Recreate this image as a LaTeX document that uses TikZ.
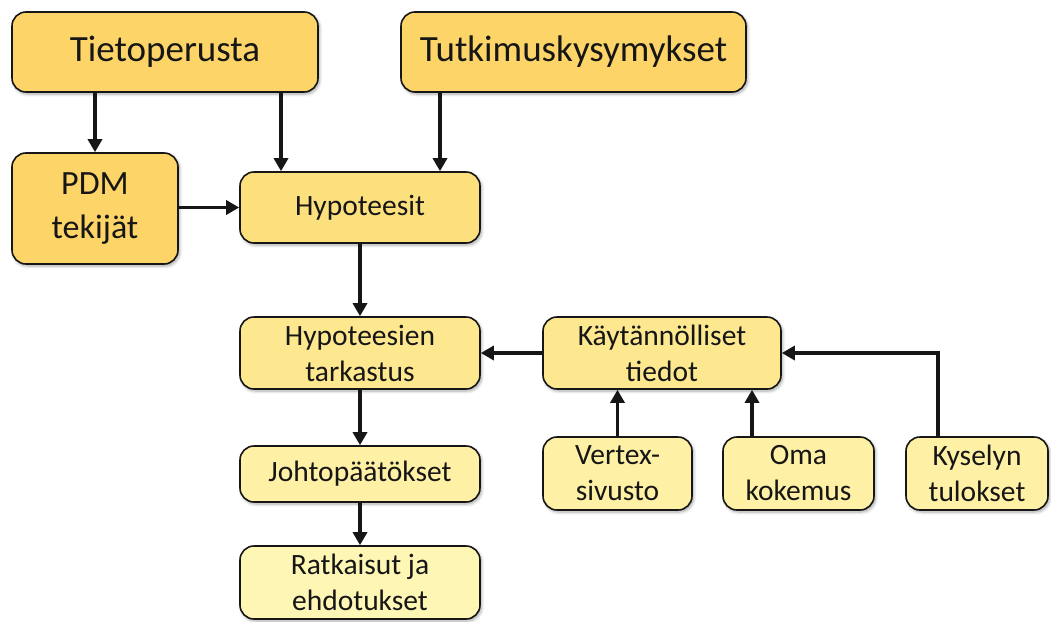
\documentclass[tikz,border=0pt]{standalone}
\usepackage{fontspec}
\setmainfont{Carlito}
\usetikzlibrary{arrows.meta,shadows.blur}
\definecolor{gold1}{RGB}{252,212,104}
\definecolor{gold2}{RGB}{253,224,126}
\definecolor{gold3}{RGB}{253,232,144}
\definecolor{gold4}{RGB}{254,240,164}
\definecolor{gold5}{RGB}{254,246,180}
\definecolor{ink}{RGB}{22,22,22}
\tikzset{
  box/.style={draw=ink, line width=1.6pt, rounded corners=14pt, align=center,
    text=ink, inner sep=2pt,
    blur shadow={shadow blur steps=6, shadow xshift=1.5pt, shadow yshift=-2pt,
      shadow opacity=35, shadow blur radius=3pt}},
  bigtext/.style={font=\fontsize{37}{44}\selectfont},
  pdmtext/.style={font=\fontsize{34}{44}\selectfont},
  smalltext/.style={font=\fontsize{29.5}{36}\selectfont},
  arr/.style={draw=ink, line width=3.3pt, -{Triangle[length=13pt,width=14pt]}}
}
\begin{document}
\begin{tikzpicture}[x=1pt,y=-1pt]
\useasboundingbox (0,0) rectangle (1051,621);

% top row
\node[box, bigtext, fill=gold1, minimum width=306, minimum height=80] (tieto) at (165,52) {Tietoperusta};
\node[box, bigtext, fill=gold1, minimum width=345, minimum height=80] (tutk) at (573.5,52) {Tutkimuskysymykset};

% second row
\node[box, pdmtext, fill=gold1, minimum width=166, minimum height=111] (pdm) at (95,208.5) {PDM\\tekijät};
\node[box, smalltext, fill=gold2, minimum width=240, minimum height=71] (hyp) at (360,207.5) {Hypoteesit};

% main column
\node[box, smalltext, fill=gold3, minimum width=240, minimum height=72] (tark) at (360,353) {Hypoteesien\\tarkastus};
\node[box, smalltext, fill=gold4, minimum width=240, minimum height=56] (johto) at (360,474) {Johtopäätökset};
\node[box, smalltext, fill=gold5, minimum width=240, minimum height=73] (ratk) at (360,582.5) {Ratkaisut ja\\ehdotukset};

% practical information branch
\node[box, smalltext, fill=gold3, minimum width=238, minimum height=72] (kayt) at (662,353) {Käytännölliset\\tiedot};
\node[box, smalltext, fill=gold4, minimum width=149, minimum height=73] (vertex) at (617.5,473.5) {Vertex-\\sivusto};
\node[box, smalltext, fill=gold4, minimum width=151, minimum height=73] (oma) at (798.5,473.5) {Oma\\kokemus};
\node[box, smalltext, fill=gold4, minimum width=142, minimum height=73] (kysely) at (977,473.5) {Kyselyn\\tulokset};

% x positions of the vertical connectors
\coordinate (cx1) at (281,0);
\coordinate (cx2) at (440,0);
\coordinate (cx3) at (752,0);
\coordinate (cx4) at (938,0);

\draw[arr] (tieto.south -| pdm.north) -- (pdm.north);
\draw[arr] (tieto.south -| cx1) -- (hyp.north -| cx1);
\draw[arr] (tutk.south -| cx2) -- (hyp.north -| cx2);
\draw[arr] (pdm.east |- hyp.west) -- (hyp.west);
\draw[arr] (hyp.south) -- (tark.north);
\draw[arr] (kayt.west) -- (tark.east);
\draw[arr] (tark.south) -- (johto.north);
\draw[arr] (johto.south) -- (ratk.north);
\draw[arr] (vertex.north) -- (kayt.south -| vertex.north);
\draw[arr] (oma.north -| cx3) -- (kayt.south -| cx3);
\draw[arr] (kysely.north -| cx4) |- (kayt.east);
\end{tikzpicture}
\end{document}
